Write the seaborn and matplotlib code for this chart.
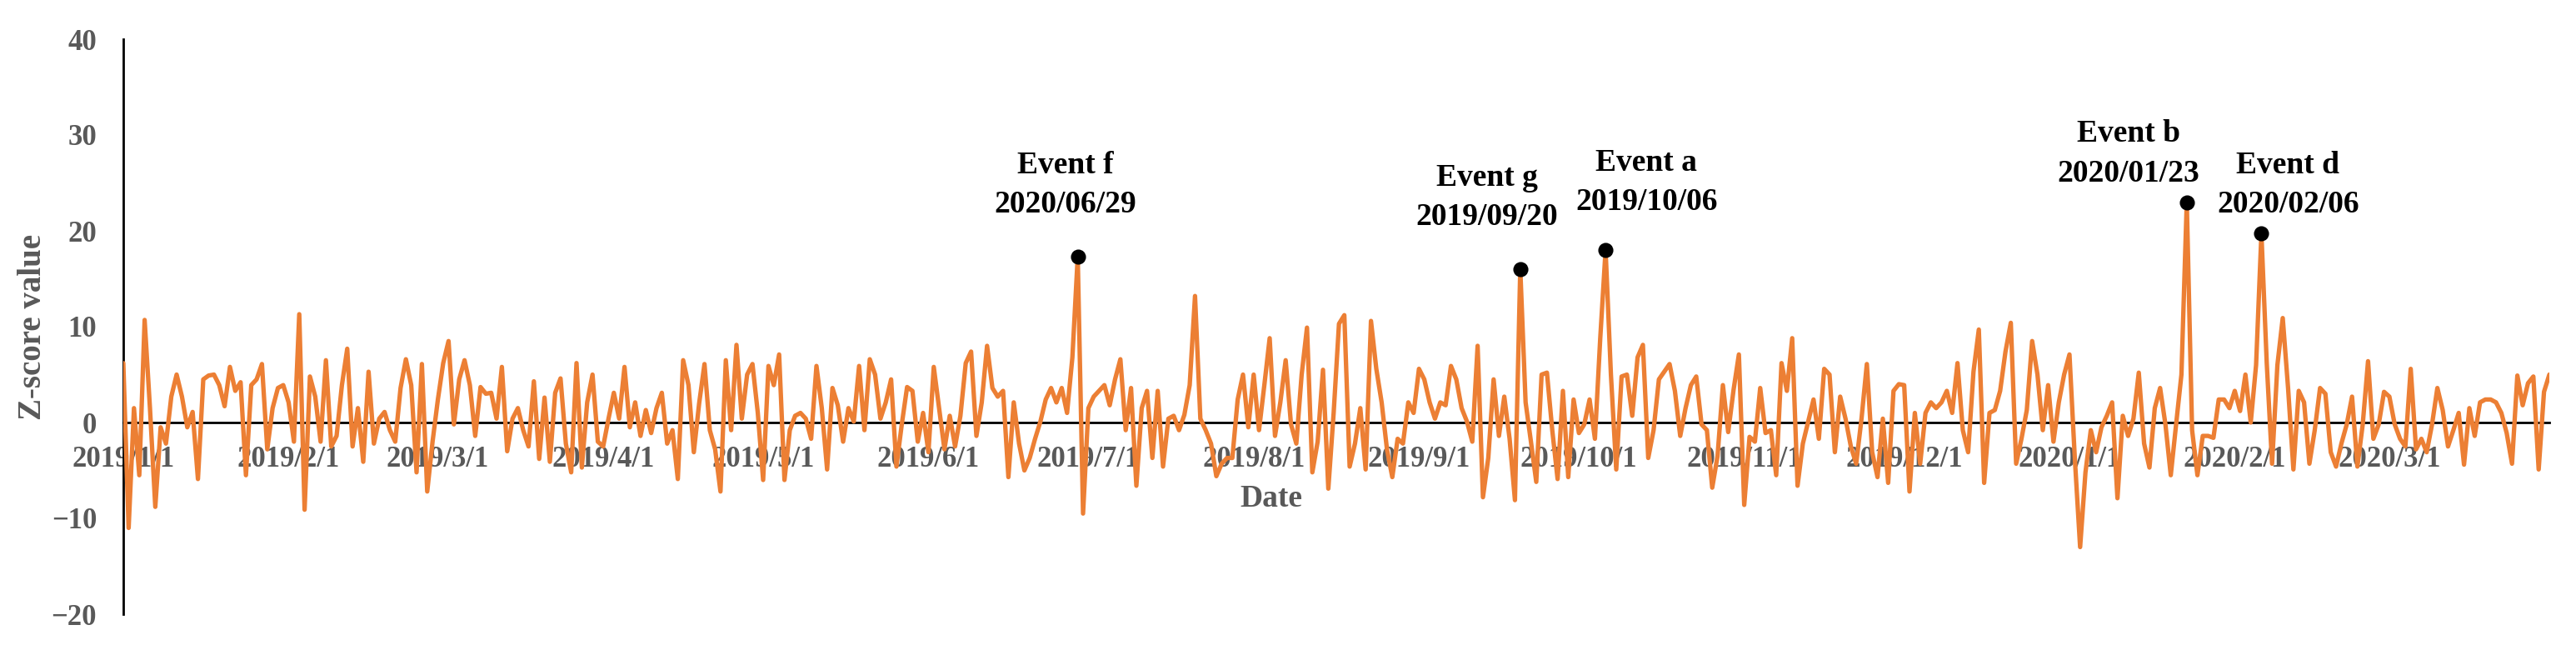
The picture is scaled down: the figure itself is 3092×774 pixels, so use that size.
import pandas as pd
import matplotlib
matplotlib.use("Agg")
import matplotlib.pyplot as plt
import seaborn as sns

# daily Z-score values, 2019/1/1 .. 2020/3/31
start_date = "2019-01-01"
z_values = [
    6.2, -11.0, 1.5, -5.5, 10.7, 1.5, -8.8, -0.5, -2.2, 2.7,
    5.0, 2.7, -0.5, 1.1, -5.9, 4.5, 4.9, 5.0, 3.9, 1.7,
    5.8, 3.3, 4.2, -5.5, 3.9, 4.5, 6.1, -2.8, 1.5, 3.6,
    3.9, 2.1, -2.0, 11.3, -9.1, 4.8, 2.7, -2.0, 6.5, -2.5,
    -1.4, 3.9, 7.7, -2.5, 1.5, -4.1, 5.3, -2.2, 0.4, 1.1,
    -0.8, -2.0, 3.6, 6.6, 3.9, -5.2, 6.1, -7.2, -2.0, 2.4,
    6.2, 8.5, -0.2, 4.5, 6.5, 3.9, -1.4, 3.7, 3.0, 3.1,
    0.4, 5.8, -3.0, 0.4, 1.5, -0.8, -2.5, 4.3, -3.8, 2.6,
    -4.1, 3.1, 4.6, -2.2, -5.2, 6.2, -4.7, 2.1, 5.0, -2.0,
    -2.5, 0.4, 3.1, 0.4, 5.8, -0.5, 2.1, -1.4, 1.3, -1.1,
    1.5, 3.1, -2.2, -0.8, -5.9, 6.5, 3.9, -3.1, 2.0, 6.1,
    -0.8, -2.8, -7.2, 6.5, -0.8, 8.1, 0.4, 5.0, 6.1, 1.0,
    -6.0, 5.9, 3.9, 7.1, -6.0, -0.8, 0.7, 1.0, 0.4, -1.7,
    5.9, 1.5, -4.9, 3.6, 1.8, -2.0, 1.5, 0.1, 5.9, -0.8,
    6.6, 5.0, 0.4, 2.1, 4.5, -4.6, -0.2, 3.7, 3.3, -2.0,
    1.0, -3.1, 5.8, 1.5, -2.8, 0.7, -2.5, 0.7, 6.2, 7.4,
    -1.4, 2.1, 8.0, 3.6, 2.7, 3.3, -5.7, 2.1, -2.2, -5.0,
    -3.7, -1.7, 0.1, 2.4, 3.6, 2.1, 3.6, 1.0, 6.8, 17.3,
    -9.5, 1.5, 2.7, 3.3, 3.9, 1.8, 4.5, 6.6, -0.8, 3.6,
    -6.6, 1.5, 3.3, -3.7, 3.3, -4.6, 0.4, 0.7, -0.8, 0.8,
    3.9, 13.2, 0.4, -0.8, -2.2, -5.6, -4.3, -3.7, -3.7, 2.4,
    5.0, -0.5, 5.0, -0.8, 3.9, 8.8, -1.4, 2.1, 6.5, -0.2,
    -2.2, 5.0, 9.9, -5.2, -2.0, 5.5, -6.9, 1.0, 10.3, 11.2,
    -4.6, -2.2, 1.5, -4.9, 10.6, 5.6, 2.1, -2.8, -5.7, -1.7,
    -2.2, 2.1, 1.0, 5.6, 4.5, 2.1, 0.4, 2.1, 1.8, 5.9,
    4.5, 1.5, 0.1, -2.0, 8.0, -7.8, -3.7, 4.5, -1.4, 2.7,
    -1.7, -8.1, 16.0, 2.1, -2.0, -6.2, 5.0, 5.2, -0.8, -5.9,
    3.3, -5.7, 2.4, -1.1, -0.2, 2.4, -1.7, 8.8, 18.0, 5.0,
    -4.9, 4.8, 5.0, 0.7, 6.8, 8.1, -3.7, -0.8, 4.5, 5.3,
    6.1, 3.3, -1.4, 1.5, 3.9, 4.8, -0.2, -0.8, -6.8, -3.5,
    3.9, -1.0, 3.4, 7.1, -8.6, -1.5, -2.0, 3.6, -1.1, -0.8,
    -5.5, 6.2, 3.3, 8.8, -6.6, -2.2, 0.1, 2.4, -1.7, 5.6,
    5.0, -3.1, 2.7, 0.4, -2.5, -4.3, 0.4, 6.1, -3.1, -5.7,
    0.4, -6.3, 3.3, 4.0, 3.9, -7.2, 1.0, -4.3, 1.0, 2.1,
    1.5, 2.1, 3.3, 1.0, 6.2, -0.8, -3.1, 5.3, 9.7, -6.3,
    1.0, 1.3, 3.3, 7.4, 10.4, -4.3, -1.7, 1.3, 8.5, 5.0,
    -0.8, 3.9, -2.0, 2.1, 5.0, 7.1, -3.7, -13.0, -5.2, -0.8,
    -3.1, -0.5, 0.7, 2.1, -7.9, 0.7, -1.4, 0.4, 5.2, -2.2,
    -4.7, 1.5, 3.6, -0.2, -5.5, -0.2, 5.0, 23.0, -0.8, -5.5,
    -1.4, -1.4, -1.6, 2.4, 2.4, 1.5, 3.3, 1.2, 5.0, 0.0,
    6.0, 19.7, 6.2, -4.3, 6.0, 10.9, 3.6, -4.9, 3.3, 2.1,
    -4.3, -0.8, 3.6, 3.0, -3.1, -4.6, -2.2, -0.2, 2.7, -4.6,
    -0.2, 6.4, -1.7, -0.2, 3.2, 2.7, -0.2, -1.7, -2.5, 5.6,
    -2.8, -1.7, -3.1, -0.2, 3.6, 1.3, -2.5, -0.8, 1.0, -4.4,
    1.5, -1.4, 2.1, 2.4, 2.4, 2.1, 1.0, -1.1, -4.3, 4.9,
    1.8, 4.1, 4.8, -4.9, 3.2, 5.0,
]

month_ticks = ["2019-01-01", "2019-02-01", "2019-03-01", "2019-04-01", "2019-05-01",
               "2019-06-01", "2019-07-01", "2019-08-01", "2019-09-01", "2019-10-01",
               "2019-11-01", "2019-12-01", "2020-01-01", "2020-02-01", "2020-03-01"]
month_labels = ["2019/1/1", "2019/2/1", "2019/3/1", "2019/4/1", "2019/5/1",
                "2019/6/1", "2019/7/1", "2019/8/1", "2019/9/1", "2019/10/1",
                "2019/11/1", "2019/12/1", "2020/1/1", "2020/2/1", "2020/3/1"]
y_ticks = [-20, -10, 0, 10, 20, 30, 40]

event_names = ["Event f", "Event g", "Event a", "Event b", "Event d"]
event_dates = ["2019-06-29", "2019-09-20", "2019-10-06", "2020-01-23", "2020-02-06"]
event_texts = ["2020/06/29", "2019/09/20", "2019/10/06", "2020/01/23", "2020/02/06"]

# label offsets from the dot, in pixels (baseline of the date line)
label_offsets = [(-15, 53), (-40, 53), (49, 48), (-70, 25), (32, 25)]

orange = "#EC7F34"
grey = "#595959"

dates = pd.date_range(start_date, periods=len(z_values), freq="D")
df = pd.DataFrame({"Date": dates, "z": z_values})
ev = df[df["Date"].isin(pd.to_datetime(event_dates))].reset_index(drop=True)

sns.set_style("white")
plt.rcParams["font.family"] = ["Liberation Serif", "DejaVu Serif"]
plt.rcParams["font.weight"] = "bold"

fig = plt.figure(figsize=(30.92, 7.74), dpi=100)
ax = fig.add_axes([148 / 3092, 37 / 774, 2912 / 3092, 690 / 774])

sns.lineplot(data=df, x="Date", y="z", color=orange, linewidth=3.8, zorder=3, ax=ax)
sns.scatterplot(data=ev, x="Date", y="z", color="black", s=170, linewidth=0,
                zorder=4, ax=ax)

ax.set_ylim(-20, 40)
ax.set_yticks(y_ticks)
ax.set_xlim(dates[0], dates[-1])
ax.set_xticks(pd.to_datetime(month_ticks))
ax.set_xticklabels(month_labels)

for s in ["top", "right"]:
    ax.spines[s].set_visible(False)
ax.spines["bottom"].set_position(("data", 0))
for s in ["left", "bottom"]:
    ax.spines[s].set_color("black")
    ax.spines[s].set_linewidth(2.0)

ax.tick_params(axis="x", length=0, pad=20, labelsize=25, labelcolor=grey)
ax.tick_params(axis="y", length=0, pad=23, labelsize=25, labelcolor=grey)
for t in ax.get_xticklabels() + ax.get_yticklabels():
    t.set_fontweight("bold")

ax.set_xlabel("Date", fontsize=27, fontweight="bold", color=grey)
ax.xaxis.set_label_coords(0.473, 0.226)
ax.set_ylabel("Z-score value", fontsize=28, fontweight="bold", color=grey)
ax.yaxis.set_label_coords(-0.031, 0.5)

for i in range(len(event_names)):
    ax.annotate(event_names[i] + "\n" + event_texts[i],
                xy=(ev["Date"][i], ev["z"][i]),
                xytext=label_offsets[i], textcoords="offset pixels",
                ha="center", va="baseline", fontsize=27, fontweight="bold",
                linespacing=1.45, color="black")

fig.savefig("out.png", dpi=100)
